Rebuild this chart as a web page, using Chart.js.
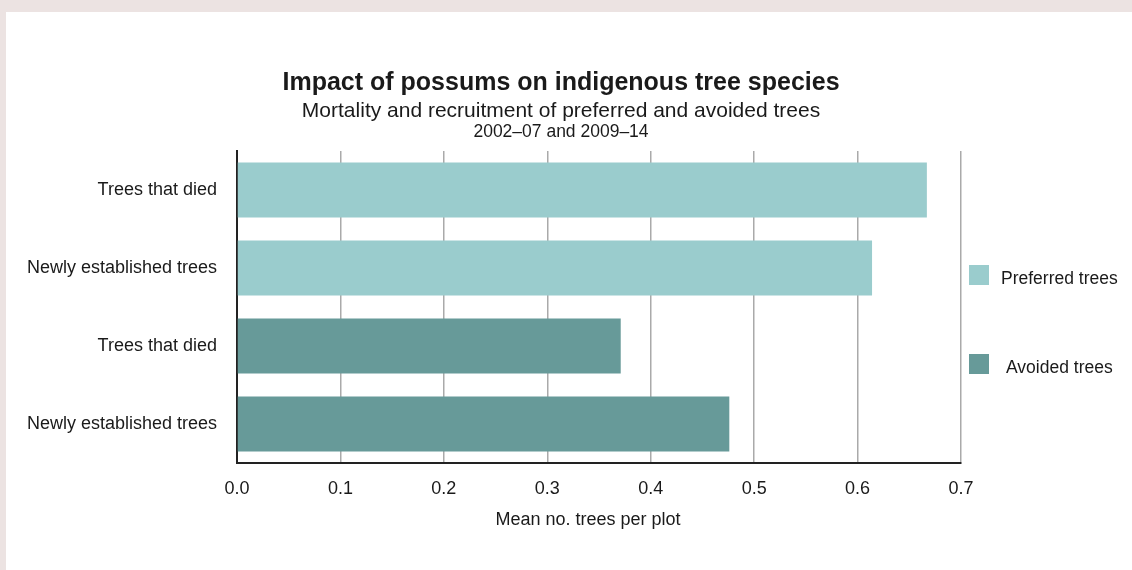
<!DOCTYPE html>
<html>
<head>
<meta charset="utf-8">
<script src="https://cdn.jsdelivr.net/npm/chart.js@4.4.1/dist/chart.umd.min.js"></script>
<style>
  body { margin: 0; background: #ece3e2; width: 1132px; height: 570px; overflow: hidden; }
  #panel { position: absolute; left: 6px; top: 12px; width: 1126px; height: 558px; background: #fff; }
</style>
</head>
<body>
<div id="panel"><canvas id="chart" width="1126" height="558"></canvas></div>
<script>
// data
const categories = ['Trees that died', 'Newly established trees', 'Trees that died', 'Newly established trees'];
const preferredTrees = [0.667, 0.614, null, null];
const avoidedTrees = [null, null, 0.371, 0.476];
const xTicks = [0, 0.1, 0.2, 0.3, 0.4, 0.5, 0.6, 0.7];

const FONT = '"Liberation Sans", Arial, Helvetica, sans-serif';
const TEXT = '#1a1a1a';

// titles, axis title and right-hand legend drawn by hand
const decorations = {
    id: 'decorations',
    afterDraw(chart) {
        const ctx = chart.ctx;
        ctx.save();
        ctx.fillStyle = TEXT;
        ctx.textAlign = 'center';
        ctx.textBaseline = 'middle';
        ctx.font = 'bold 25px ' + FONT;
        ctx.fillText('Impact of possums on indigenous tree species', 555, 71);
        ctx.font = '21px ' + FONT;
        ctx.fillText('Mortality and recruitment of preferred and avoided trees', 555, 99);
        ctx.font = '17.5px ' + FONT;
        ctx.fillText('2002\u201307 and 2009\u201314', 555, 120);

        ctx.font = '18px ' + FONT;
        ctx.fillText('Mean no. trees per plot', 582, 508);

        // legend
        const rows = [
            { y: 253, tx: 995 },
            { y: 342, tx: 1000 },
        ];
        ctx.textAlign = 'left';
        ctx.font = '17.5px ' + FONT;
        chart.data.datasets.forEach((ds, i) => {
            const r = rows[i];
            ctx.fillStyle = ds.backgroundColor;
            ctx.fillRect(963, r.y, 20, 20);
            ctx.fillStyle = TEXT;
            ctx.fillText(ds.label, r.tx, r.y + 14);
        });
        ctx.restore();
    }
};

new Chart(document.getElementById('chart'), {
    type: 'bar',
    data: {
        labels: categories,
        datasets: [
            {
                label: 'Preferred trees',
                data: preferredTrees,
                backgroundColor: '#9acccd',
                grouped: false,
                categoryPercentage: 1,
                barPercentage: 0.705,
            },
            {
                label: 'Avoided trees',
                data: avoidedTrees,
                backgroundColor: '#679a99',
                grouped: false,
                categoryPercentage: 1,
                barPercentage: 0.705,
            }
        ]
    },
    options: {
        indexAxis: 'y',
        responsive: false,
        animation: false,
        layout: { padding: { top: 139, right: 171, left: 0, bottom: 0 } },
        plugins: {
            legend: { display: false },
            tooltip: { enabled: false }
        },
        scales: {
            x: {
                min: 0,
                max: 0.7,
                afterBuildTicks: (scale) => { scale.ticks = xTicks.map(v => ({ value: v })); },
                afterFit: (scale) => { scale.height = 107; },
                grid: { color: '#aaaaaa', lineWidth: 1.5, drawTicks: false },
                border: { color: '#222', width: 2 },
                ticks: {
                    padding: 15,
                    color: TEXT,
                    font: { family: FONT, size: 18 },
                    callback: (v) => Number(v).toFixed(1)
                }
            },
            y: {
                afterFit: (scale) => { scale.width = 231; },
                grid: { display: false, drawTicks: false },
                border: { color: '#222', width: 2 },
                ticks: {
                    padding: 20,
                    color: TEXT,
                    font: { family: FONT, size: 18 }
                }
            }
        }
    },
    plugins: [decorations]
});
</script>
</body>
</html>
